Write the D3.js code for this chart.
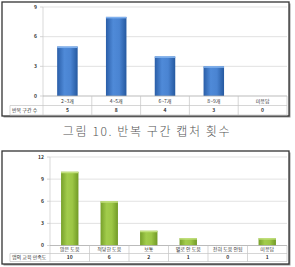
<!DOCTYPE html>
<html>
<head>
<meta charset="utf-8">
<script src="https://cdn.jsdelivr.net/npm/d3@7.9.0/dist/d3.min.js"></script>
<style>
  html, body { margin: 0; padding: 0; background: #fff; }
  svg { display: block; font-family: 'Noto Sans CJK KR', 'Noto Sans', sans-serif; }
</style>
</head>
<body>
<svg width="295" height="267"></svg>
<script>
// chart 1: 반복 구간 수
const catsA = ['2~3개', '4~5개', '6~7개', '8~9개', '미응답'];
const valuesA = [5, 8, 4, 3, 0];
const ticksA = [0, 3, 6, 9];
const rowLabelA = '반복 구간 수';

// chart 2: 앱의 교육 만족도
const catsB = ['많은 도움', '적당한 도움', '보통', '별로 안 도움', '전혀 도움 안됨', '미응답'];
const valuesB = [10, 6, 2, 1, 0, 1];
const ticksB = [0, 3, 6, 9, 12];
const rowLabelB = '앱의 교육 만족도';

const caption = '그림 10. 반복 구간 캡처 횟수';

const svg = d3.select('svg');
const defs = svg.append('defs');

function addGradient(id, stops) {
  let g = defs.append('linearGradient').attr('id', id)
    .attr('x1', 0).attr('x2', 1).attr('y1', 0).attr('y2', 0);
  stops.forEach(([o, c]) => g.append('stop').attr('offset', o).attr('stop-color', c));
}
addGradient('blue', [[0, '#2a5ea8'], [0.35, '#4f8ad8'], [0.65, '#4a84d2'], [1, '#2559a0']]);
addGradient('green', [[0, '#77a02a'], [0.35, '#a2cc4c'], [0.65, '#9cc645'], [1, '#719a26']]);

function drawChart(o) {
  let g = svg.append('g');

  // frame with shadow
  g.append('rect').attr('x', o.frame[0] + 1.5).attr('y', o.frame[1] + 1.5)
    .attr('width', o.frame[2] - o.frame[0]).attr('height', o.frame[3] - o.frame[1])
    .attr('fill', '#999');
  g.append('rect').attr('x', o.frame[0]).attr('y', o.frame[1])
    .attr('width', o.frame[2] - o.frame[0]).attr('height', o.frame[3] - o.frame[1])
    .attr('fill', '#fff').attr('stroke', '#333').attr('stroke-width', 1.3);

  let x = d3.scaleBand().domain(o.cats).range([o.left, o.right]);
  let y = d3.scaleLinear().domain([0, d3.max(o.ticks)]).range([o.base, o.top]);

  // gridlines
  g.selectAll('.grid').data(o.ticks.slice(1)).join('line')
    .attr('x1', o.left).attr('x2', o.right)
    .attr('y1', (d) => y(d)).attr('y2', (d) => y(d))
    .attr('stroke', '#d6d6d6').attr('stroke-width', 0.7);

  // tick labels
  g.selectAll('.tick').data(o.ticks).join('text')
    .attr('x', o.left - 6).attr('y', (d) => y(d) + 1.8)
    .attr('text-anchor', 'end').attr('font-size', 5).attr('font-weight', 'bold')
    .attr('fill', '#333').text((d) => d);
  g.selectAll('.tickmark').data(o.ticks).join('line')
    .attr('x1', o.left - 3).attr('x2', o.left)
    .attr('y1', (d) => y(d)).attr('y2', (d) => y(d))
    .attr('stroke', '#bbb').attr('stroke-width', 0.6);

  // bars + lighter top edge
  let bw = x.bandwidth() * o.barFrac;
  g.selectAll('rect.bar').data(o.values).join('rect').attr('class', 'bar')
    .attr('x', (d, i) => x(o.cats[i]) + (x.bandwidth() - bw) / 2)
    .attr('y', (d) => y(d))
    .attr('width', bw)
    .attr('height', (d) => o.base - y(d))
    .attr('fill', `url(#${o.grad})`);
  g.selectAll('rect.capline').data(o.values).join('rect').attr('class', 'capline')
    .attr('x', (d, i) => x(o.cats[i]) + (x.bandwidth() - bw) / 2)
    .attr('y', (d) => y(d))
    .attr('width', bw)
    .attr('height', (d) => (d > 0 ? 1.5 : 0))
    .attr('fill', o.capColor);

  // table under the plot
  let rowH = o.rowH;
  let tl = '#c4c4c4';
  g.append('line').attr('x1', o.left).attr('x2', o.left).attr('y1', o.top).attr('y2', o.base + rowH * 2)
    .attr('stroke', '#c8c8c8').attr('stroke-width', 0.7);
  g.append('line').attr('x1', o.left).attr('x2', o.right).attr('y1', o.base).attr('y2', o.base)
    .attr('stroke', '#aaa').attr('stroke-width', 0.8);
  g.append('line').attr('x1', o.labelX).attr('x2', o.right).attr('y1', o.base + rowH).attr('y2', o.base + rowH)
    .attr('stroke', tl).attr('stroke-width', 0.7);
  g.append('line').attr('x1', o.labelX).attr('x2', o.right).attr('y1', o.base + rowH * 2).attr('y2', o.base + rowH * 2)
    .attr('stroke', tl).attr('stroke-width', 0.7);
  g.append('line').attr('x1', o.labelX).attr('x2', o.labelX).attr('y1', o.base + rowH).attr('y2', o.base + rowH * 2)
    .attr('stroke', tl).attr('stroke-width', 0.7);
  g.selectAll('.sep').data(o.cats).join('line')
    .attr('x1', (d) => x(d) + x.bandwidth()).attr('x2', (d) => x(d) + x.bandwidth())
    .attr('y1', o.base).attr('y2', o.base + rowH * 2)
    .attr('stroke', tl).attr('stroke-width', 0.7);

  g.selectAll('.cat').data(o.cats).join('text')
    .attr('x', (d) => x(d) + x.bandwidth() / 2).attr('y', o.base + rowH / 2 + 1.8)
    .attr('text-anchor', 'middle').attr('font-size', 5).attr('fill', '#333').text((d) => d);
  g.selectAll('.val').data(o.values).join('text')
    .attr('x', (d, i) => x(o.cats[i]) + x.bandwidth() / 2).attr('y', o.base + rowH * 1.5 + 1.8)
    .attr('text-anchor', 'middle').attr('font-size', 5).attr('font-weight', 'bold')
    .attr('fill', '#333').text((d) => d);
  g.append('text').attr('x', o.labelX + 2).attr('y', o.base + rowH * 1.5 + 1.8)
    .attr('font-size', 5).attr('fill', '#333').text(o.rowLabel);
}

drawChart({
  cats: catsA, values: valuesA, ticks: ticksA, rowLabel: rowLabelA,
  frame: [2, 2, 289, 116], left: 43, right: 287, top: 7, base: 96, rowH: 9.5,
  labelX: 10, barFrac: 0.42, grad: 'blue', capColor: '#7fb0ee'
});

drawChart({
  cats: catsB, values: valuesB, ticks: ticksB, rowLabel: rowLabelB,
  frame: [2, 151, 289, 264], left: 50, right: 287, top: 157, base: 245.5, rowH: 8,
  labelX: 10, barFrac: 0.44, grad: 'green', capColor: '#c2e07e'
});

svg.append('text').attr('x', 147).attr('y', 136)
  .attr('text-anchor', 'middle').attr('font-size', 12).attr('font-weight', 300)
  .attr('fill', '#555').attr('letter-spacing', 1.6).text(caption);
</script>
</body>
</html>
